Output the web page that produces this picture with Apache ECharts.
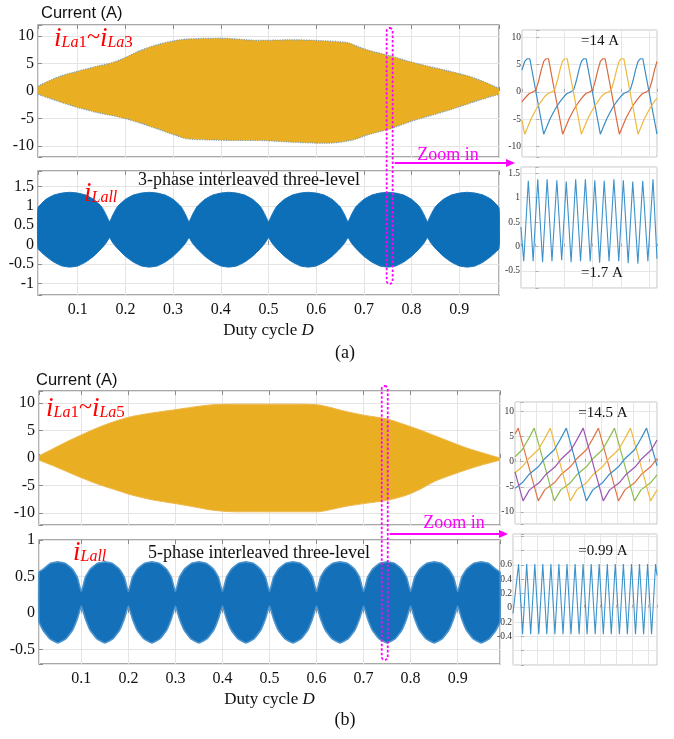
<!DOCTYPE html>
<html>
<head>
<meta charset="utf-8">
<script src="https://cdn.jsdelivr.net/npm/echarts@6/dist/echarts.min.js"></script>
<style>
html,body{margin:0;padding:0;background:#fff}
#c{width:674px;height:739px}
</style>
</head>
<body>
<div id="c"></div>
<script>
// ---------- (a) 3-phase interleaved three-level ----------
// Phase-current envelope versus duty cycle D: [D, current]
const iLaUpperA = [[0.0167,0.9],[0.06,2.6],[0.10,3.6],[0.14,4.5],[0.17,5.1],[0.20,6.1],[0.232,7.4],[0.27,8.5],[0.30,9.1],[0.33,9.45],[0.40,9.6],[0.48,9.2],[0.55,9.3],[0.61,9.15],[0.665,8.8],[0.69,8.0],[0.714,7.3],[0.755,6.4],[0.79,5.5],[0.83,4.6],[0.87,3.8],[0.93,2.4],[0.9833,0.5]];
const iLaLowerA = [[0.0167,-0.6],[0.06,-1.9],[0.10,-3.0],[0.14,-3.9],[0.19,-4.8],[0.23,-5.8],[0.267,-6.9],[0.30,-7.9],[0.33,-8.7],[0.38,-8.9],[0.43,-9.0],[0.48,-9.0],[0.55,-9.3],[0.62,-9.5],[0.672,-9.0],[0.714,-7.8],[0.755,-6.9],[0.80,-5.5],[0.874,-3.6],[0.937,-1.8],[0.9833,-0.6]];
// Total (summed) current ripple envelope: [D, lower, upper]
const iLallA = [
  [0.0167,-0.10,0.95],[0.0333,-0.30,1.17],[0.05,-0.45,1.28],[0.0667,-0.55,1.33],[0.0833,-0.58,1.35],[0.1,-0.55,1.33],[0.1167,-0.45,1.28],[0.1333,-0.30,1.17],[0.15,-0.10,0.98],[0.16,0.05,0.76],[0.1667,0.18,0.59],
  [0.1733,0.05,0.76],[0.1833,-0.10,0.98],[0.2,-0.30,1.17],[0.2167,-0.45,1.28],[0.2333,-0.55,1.33],[0.25,-0.58,1.35],[0.2667,-0.55,1.33],[0.2833,-0.45,1.28],[0.3,-0.30,1.17],[0.3167,-0.10,0.98],[0.3267,0.05,0.76],[0.3333,0.18,0.59],
  [0.34,0.05,0.76],[0.35,-0.10,0.98],[0.3667,-0.30,1.17],[0.3833,-0.45,1.28],[0.4,-0.55,1.33],[0.4167,-0.58,1.35],[0.4333,-0.55,1.33],[0.45,-0.45,1.28],[0.4667,-0.30,1.17],[0.4833,-0.10,0.98],[0.4933,0.05,0.76],[0.5,0.18,0.59],
  [0.5067,0.05,0.76],[0.5167,-0.10,0.98],[0.5333,-0.30,1.17],[0.55,-0.45,1.28],[0.5667,-0.55,1.33],[0.5833,-0.58,1.35],[0.6,-0.55,1.33],[0.6167,-0.45,1.28],[0.6333,-0.30,1.17],[0.65,-0.10,0.98],[0.66,0.05,0.76],[0.6667,0.18,0.59],
  [0.6733,0.05,0.76],[0.6833,-0.10,0.98],[0.7,-0.30,1.17],[0.7167,-0.45,1.28],[0.7333,-0.55,1.33],[0.75,-0.58,1.35],[0.7667,-0.55,1.33],[0.7833,-0.45,1.28],[0.8,-0.30,1.17],[0.8167,-0.10,0.98],[0.8267,0.05,0.76],[0.8333,0.18,0.59],
  [0.84,0.05,0.76],[0.85,-0.10,0.98],[0.8667,-0.30,1.17],[0.8833,-0.45,1.28],[0.9,-0.55,1.33],[0.9167,-0.58,1.35],[0.9333,-0.55,1.33],[0.95,-0.45,1.28],[0.9667,-0.30,1.17],[0.9833,-0.10,0.95]
];
// Zoomed phase currents near D = 0.75: [t, current]
const zoomPhase1A = [[-5.1,4.0],[-4.1,5.6],[-3.3,6.1],[-2.3,6.1],[2.6,-7.8],[3.8,-6.3],[4.9,-4.9],[6.1,-3.7],[7.3,-2.6],[8.5,-1.7],[9.7,-0.9],[10.8,-0.3],[12.2,0.0],[13.2,0.4],[14.1,2.0],[15.1,4.2],[15.9,5.6],[16.7,6.1],[17.6,6.1],[22.6,-7.8],[23.8,-6.3],[24.9,-4.9],[26.1,-3.7],[27.3,-2.6],[28.5,-1.7],[29.7,-0.9],[30.8,-0.3],[32.2,0.0],[33.2,0.4],[34.1,2.0],[35.1,4.2],[35.9,5.6],[36.7,6.1],[37.6,6.1],[42.6,-7.8]];
const zoomPhase2A = [[-5.1,-1.9],[-4.6,-1.5],[-3.6,-0.9],[-2.5,-0.3],[-1.1,0.0],[-0.1,0.4],[0.8,2.0],[1.8,4.2],[2.6,5.6],[3.4,6.1],[4.3,6.1],[9.3,-7.8],[10.5,-6.3],[11.6,-4.9],[12.8,-3.7],[14.0,-2.6],[15.2,-1.7],[16.4,-0.9],[17.5,-0.3],[18.9,0.0],[19.9,0.4],[20.8,2.0],[21.8,4.2],[22.6,5.6],[23.4,6.1],[24.3,6.1],[29.3,-7.8],[30.5,-6.3],[31.6,-4.9],[32.8,-3.7],[34.0,-2.6],[35.2,-1.7],[36.4,-0.9],[37.5,-0.3],[38.9,0.0],[39.9,0.4],[40.8,2.0],[41.8,4.2],[42.6,5.6]];
const zoomPhase3A = [[-5.1,-5.2],[-4.1,-7.8],[-2.9,-6.3],[-1.8,-4.9],[-0.6,-3.7],[0.6,-2.6],[1.8,-1.7],[2.9,-0.9],[4.1,-0.3],[5.5,0.0],[6.5,0.4],[7.4,2.0],[8.4,4.2],[9.2,5.6],[10.0,6.1],[10.9,6.1],[15.9,-7.8],[17.1,-6.3],[18.2,-4.9],[19.4,-3.7],[20.6,-2.6],[21.8,-1.7],[22.9,-0.9],[24.1,-0.3],[25.5,0.0],[26.5,0.4],[27.4,2.0],[28.4,4.2],[29.2,5.6],[30.0,6.1],[30.9,6.1],[35.9,-7.8],[37.1,-6.3],[38.2,-4.9],[39.4,-3.7],[40.6,-2.6],[41.8,-1.7],[42.6,-1.2]];
// Zoomed total current: [t, current]
const zoomTotalA = [[-5.1,0.40],[-4.1,-0.30],[-2.5,1.35],[-0.8,-0.30],[0.8,1.38],[2.5,-0.32],[4.1,1.38],[5.8,-0.30],[7.5,1.36],[9.2,-0.28],[10.8,1.33],[12.5,-0.32],[14.1,1.38],[15.8,-0.30],[17.5,1.38],[19.2,-0.30],[20.8,1.36],[22.5,-0.33],[24.1,1.35],[25.8,-0.30],[27.5,1.38],[29.2,-0.30],[30.8,1.36],[32.5,-0.34],[34.1,1.33],[35.9,-0.35],[37.6,1.35],[39.4,-0.30],[41.2,1.38],[42.6,-0.25]];

// ---------- (b) 5-phase interleaved three-level ----------
const iLaUpperB = [[0.01,0.4],[0.04,1.7],[0.07,3.0],[0.10,4.2],[0.14,5.7],[0.18,6.9],[0.21,7.6],[0.25,8.2],[0.30,8.8],[0.34,9.3],[0.38,9.7],[0.43,9.8],[0.48,9.8],[0.55,9.8],[0.60,9.7],[0.63,9.2],[0.656,8.6],[0.70,7.8],[0.75,7.1],[0.79,6.0],[0.82,5.1],[0.85,4.1],[0.88,3.1],[0.92,1.8],[0.95,1.0],[0.99,0.0]];
const iLaLowerB = [[0.01,-0.4],[0.04,-1.4],[0.07,-2.5],[0.10,-3.6],[0.14,-4.9],[0.18,-6.0],[0.21,-6.8],[0.25,-7.6],[0.30,-8.3],[0.34,-8.9],[0.38,-9.5],[0.43,-9.8],[0.48,-9.8],[0.55,-9.8],[0.60,-9.8],[0.63,-9.4],[0.656,-8.9],[0.70,-8.3],[0.75,-7.7],[0.79,-6.8],[0.82,-5.7],[0.85,-4.3],[0.88,-3.3],[0.92,-2.1],[0.95,-1.3],[0.99,-0.4]];
const iLallB = [
  [0.01,-0.12,0.56],[0.019,-0.24,0.60],[0.034,-0.36,0.68],[0.05,-0.41,0.70],[0.066,-0.36,0.68],[0.081,-0.24,0.60],[0.0914,-0.08,0.49],[0.1,0.095,0.29],
  [0.1086,-0.08,0.49],[0.119,-0.24,0.60],[0.134,-0.36,0.68],[0.15,-0.41,0.70],[0.166,-0.36,0.68],[0.181,-0.24,0.60],[0.1914,-0.08,0.49],[0.2,0.095,0.29],
  [0.2086,-0.08,0.49],[0.219,-0.24,0.60],[0.234,-0.36,0.68],[0.25,-0.41,0.70],[0.266,-0.36,0.68],[0.281,-0.24,0.60],[0.2914,-0.08,0.49],[0.3,0.095,0.29],
  [0.3086,-0.08,0.49],[0.319,-0.24,0.60],[0.334,-0.36,0.68],[0.35,-0.41,0.70],[0.366,-0.36,0.68],[0.381,-0.24,0.60],[0.3914,-0.08,0.49],[0.4,0.095,0.29],
  [0.4086,-0.08,0.49],[0.419,-0.24,0.60],[0.434,-0.36,0.68],[0.45,-0.41,0.70],[0.466,-0.36,0.68],[0.481,-0.24,0.60],[0.4914,-0.08,0.49],[0.5,0.095,0.29],
  [0.5086,-0.08,0.49],[0.519,-0.24,0.60],[0.534,-0.36,0.68],[0.55,-0.41,0.70],[0.566,-0.36,0.68],[0.581,-0.24,0.60],[0.5914,-0.08,0.49],[0.6,0.095,0.29],
  [0.6086,-0.08,0.49],[0.619,-0.24,0.60],[0.634,-0.36,0.68],[0.65,-0.41,0.70],[0.666,-0.36,0.68],[0.681,-0.24,0.60],[0.6914,-0.08,0.49],[0.7,0.095,0.29],
  [0.7086,-0.08,0.49],[0.719,-0.24,0.60],[0.734,-0.36,0.68],[0.75,-0.41,0.70],[0.766,-0.36,0.68],[0.781,-0.24,0.60],[0.7914,-0.08,0.49],[0.8,0.095,0.29],
  [0.8086,-0.08,0.49],[0.819,-0.24,0.60],[0.834,-0.36,0.68],[0.85,-0.41,0.70],[0.866,-0.36,0.68],[0.881,-0.24,0.60],[0.8914,-0.08,0.49],[0.9,0.095,0.29],
  [0.9086,-0.08,0.49],[0.919,-0.24,0.60],[0.934,-0.36,0.68],[0.95,-0.41,0.70],[0.966,-0.36,0.68],[0.981,-0.24,0.60],[0.99,-0.12,0.56]
];
const zoomPhase1B = [[-0.35,5.5],[-0.15,6.7],[1.1,-7.8],[1.5,-5.6],[2.1,-4.2],[2.5,-2.6],[3.1,-1.0],[3.5,0.6],[4.1,2.4],[4.5,4.6],[4.85,6.7],[6.1,-7.8],[6.5,-5.6],[7.1,-4.2],[7.5,-2.6],[8.1,-1.0],[8.5,0.6]];
const zoomPhase2B = [[-0.35,1.0],[0.1,2.4],[0.5,4.6],[0.85,6.7],[2.1,-7.8],[2.5,-5.6],[3.1,-4.2],[3.5,-2.6],[4.1,-1.0],[4.5,0.6],[5.1,2.4],[5.5,4.6],[5.85,6.7],[7.1,-7.8],[7.5,-5.6],[8.1,-4.2],[8.5,-2.6]];
const zoomPhase3B = [[-0.35,-2.2],[0.1,-1.0],[0.5,0.6],[1.1,2.4],[1.5,4.6],[1.85,6.7],[3.1,-7.8],[3.5,-5.6],[4.1,-4.2],[4.5,-2.6],[5.1,-1.0],[5.5,0.6],[6.1,2.4],[6.5,4.6],[6.85,6.7],[8.1,-7.8],[8.5,-5.6]];
const zoomPhase4B = [[-0.35,-5.3],[0.1,-4.2],[0.5,-2.6],[1.1,-1.0],[1.5,0.6],[2.1,2.4],[2.5,4.6],[2.85,6.7],[4.1,-7.8],[4.5,-5.6],[5.1,-4.2],[5.5,-2.6],[6.1,-1.0],[6.5,0.6],[7.1,2.4],[7.5,4.6],[7.85,6.7],[8.5,-0.8]];
const zoomPhase5B = [[-0.35,-2.0],[0.15,-7.8],[0.55,-5.6],[1.15,-4.2],[1.55,-2.6],[2.15,-1.0],[2.55,0.6],[3.15,2.4],[3.55,4.6],[3.9,6.7],[5.15,-7.8],[5.55,-5.6],[6.15,-4.2],[6.55,-2.6],[7.15,-1.0],[7.55,0.6],[8.15,2.4],[8.5,4.3]];
const zoomTotalB = [[-0.5,-0.08],[-0.15,0.61],[0.1,-0.37],[0.36,0.61],[0.61,-0.37],[0.87,0.61],[1.12,-0.37],[1.37,0.61],[1.62,-0.37],[1.88,0.61],[2.13,-0.37],[2.38,0.61],[2.64,-0.37],[2.89,0.61],[3.14,-0.37],[3.4,0.61],[3.65,-0.37],[3.9,0.61],[4.15,-0.37],[4.41,0.61],[4.66,-0.37],[4.91,0.61],[5.17,-0.37],[5.42,0.61],[5.67,-0.37],[5.92,0.61],[6.18,-0.37],[6.43,0.61],[6.68,-0.37],[6.94,0.61],[7.19,-0.37],[7.44,0.61],[7.7,-0.37],[7.95,0.61],[8.2,-0.37],[8.45,0.61],[8.54,0.45]];

// Axis extents
const dutyRangeA = [0.0167, 0.9833];
const dutyRangeB = [0.01, 0.99];
const zoomDutyA = 0.754;
const zoomDutyB = 0.745;
const peakToPeak = ['=14 A', '=1.7 A', '=14.5 A', '=0.99 A'];

const SERIF = '"Liberation Serif","Times New Roman",serif';
const SANS = '"Liberation Sans",Arial,sans-serif';
const MAGENTA = '#ff00ff';

const chart = echarts.init(document.getElementById('c'));

const grids = [
  {left: 38, top: 25, width: 461, height: 132},
  {left: 38, top: 171, width: 461, height: 124},
  {left: 522, top: 30, width: 135, height: 127},
  {left: 521, top: 167, width: 136, height: 121},
  {left: 39, top: 391, width: 461, height: 134},
  {left: 39, top: 540, width: 461, height: 124},
  {left: 515, top: 402, width: 142, height: 122},
  {left: 513, top: 534, width: 144, height: 131}
].map((g, i) => Object.assign({
  show: true, containLabel: false, outerBoundsMode: 'none',
  borderColor: [0, 1, 4, 5].includes(i) ? '#8c8c8c' : '#c2c2c2',
  borderWidth: [0, 1, 4, 5].includes(i) ? 1.3 : 1,
  backgroundColor: 'transparent'
}, g));

function stepFormatter(step, lo, hi) {
  return v => {
    const k = v / step;
    if (Math.abs(k - Math.round(k)) > 1e-6) return '';
    if (lo !== undefined && (v < lo - 1e-9 || v > hi + 1e-9)) return '';
    return String(Math.round(v * 100) / 100);
  };
}

function mainX(gi, range, labels) {
  return {
    gridIndex: gi, type: 'value', min: range[0], max: range[1], splitNumber: 10,
    axisLine: {show: false},
    axisTick: {show: true, inside: true, length: 4, lineStyle: {color: '#8c8c8c'}},
    splitLine: {show: true, lineStyle: {color: '#e4e4e4', width: 1}},
    axisLabel: {show: labels, formatter: v => {
      const k = v / 0.1; return Math.abs(k - Math.round(k)) < 1e-6 ? v.toFixed(1) : '';
    }, fontFamily: SERIF, fontSize: 16, color: '#111', margin: 7, hideOverlap: false},
    name: labels ? 'Duty cycle {it|D}' : '', nameLocation: 'middle', nameGap: 27,
    nameTextStyle: {fontFamily: SERIF, fontSize: 17, color: '#111',
      rich: {it: {fontFamily: SERIF, fontSize: 17, fontStyle: 'italic', color: '#111'}}}
  };
}
function topMirror(gi, range) {
  return {
    gridIndex: gi, type: 'value', position: 'top', min: range[0], max: range[1], splitNumber: 10,
    axisLine: {show: false}, axisLabel: {show: false}, splitLine: {show: false},
    axisTick: {show: true, inside: true, length: 4, lineStyle: {color: '#8c8c8c'}}
  };
}
function mainY(gi, min, max, splitNumber, step) {
  return {
    gridIndex: gi, type: 'value', min, max, splitNumber,
    axisLine: {show: false},
    axisTick: {show: true, inside: true, length: 4, lineStyle: {color: '#8c8c8c'}},
    splitLine: {show: true, lineStyle: {color: '#e4e4e4', width: 1}},
    axisLabel: {formatter: stepFormatter(step), fontFamily: SERIF, fontSize: 16, color: '#111', margin: 4, hideOverlap: false}
  };
}
function insetX(gi, min, max, splitNumber) {
  return {
    gridIndex: gi, type: 'value', min, max, splitNumber,
    axisLine: {show: false}, axisLabel: {show: false},
    axisTick: {show: true, inside: true, length: 3, lineStyle: {color: '#aaa'}},
    splitLine: {show: true, lineStyle: {color: '#e6e6e6', width: 1}}
  };
}
function insetY(gi, min, max, splitNumber, step, lo, hi) {
  return {
    gridIndex: gi, type: 'value', min, max, splitNumber,
    axisLine: {show: false},
    axisTick: {show: true, inside: true, length: 3, lineStyle: {color: '#aaa'}},
    splitLine: {show: true, lineStyle: {color: '#e6e6e6', width: 1}},
    axisLabel: {formatter: stepFormatter(step, lo, hi), fontFamily: SERIF, fontSize: 9.5, color: '#333', margin: 1, hideOverlap: false}
  };
}

const xAxes = [
  mainX(0, dutyRangeA, false),
  mainX(1, dutyRangeA, true),
  insetX(2, -5.06, 42.6, 5),
  insetX(3, -5.06, 42.6, 5),
  mainX(4, dutyRangeB, false),
  mainX(5, dutyRangeB, true),
  insetX(6, -0.35, 8.5, 9),
  insetX(7, -0.5, 8.54, 9),
  topMirror(0, dutyRangeA), topMirror(1, dutyRangeA), topMirror(4, dutyRangeB), topMirror(5, dutyRangeB)
];
const yAxes = [
  mainY(0, -12, 12, 5, 5),
  mainY(1, -1.3, 1.9, 6, 0.5),
  insetY(2, -12, 11.4, 5, 5),
  insetY(3, -0.85, 1.63, 5, 0.5),
  mainY(4, -12.2, 12.2, 5, 5),
  mainY(5, -0.7, 1.0, 4, 0.5),
  insetY(6, -12.4, 11.9, 5, 5),
  insetY(7, -0.8, 1.03, 9, 0.2, -0.4, 0.6)
];

function line(gi, data, color, width, extra) {
  return Object.assign({
    type: 'line', xAxisIndex: gi, yAxisIndex: gi, data, symbol: 'none', silent: true,
    lineStyle: {color, width}, z: 3
  }, extra || {});
}
// Envelope drawn as area from the zero line outward (the band straddles zero)
function halfEnvelope(gi, data, fill, edge) {
  return line(gi, data, edge.color, edge.width, {
    smooth: 0.3, lineStyle: edge, areaStyle: {color: fill, opacity: 1}, z: 2
  });
}
// Ripple band between lower and upper bounds, filled as one polygon in data space
function bandEnvelope(gi, rows, fill, edgeColor, edgeWidth) {
  return {
    type: 'custom', xAxisIndex: gi, yAxisIndex: gi, silent: true, z: 2,
    data: rows.map(r => [r[0], r[1], r[2]]),
    encode: {x: 0, y: [1, 2]},
    renderItem: (params, api) => {
      if (params.dataIndex !== 0) return null;
      const upper = rows.map(r => api.coord([r[0], r[2]]));
      const lower = rows.map(r => api.coord([r[0], r[1]])).reverse();
      return {
        type: 'polygon',
        shape: {points: upper.concat(lower), smooth: 0.12},
        style: {fill, stroke: edgeColor, lineWidth: edgeWidth}
      };
    }
  };
}

const ORANGE = '#eaae22';
const dottedEdge = {color: '#7e9db0', width: 1.2, type: 'dotted'};
const series = [
  halfEnvelope(0, iLaUpperA, ORANGE, dottedEdge),
  halfEnvelope(0, iLaLowerA, ORANGE, dottedEdge),
  bandEnvelope(1, iLallA, '#0c6fb8', '#1a74bb', 1),
  line(2, zoomPhase1A, '#3a8ec8', 1.2),
  line(2, zoomPhase2A, '#db6a3e', 1.2),
  line(2, zoomPhase3A, '#efb83e', 1.2),
  line(3, zoomTotalA, '#3c92cb', 1.1),
  halfEnvelope(4, iLaUpperB, ORANGE, {color: '#eeb84a', width: 1}),
  halfEnvelope(4, iLaLowerB, ORANGE, {color: '#eeb84a', width: 1}),
  bandEnvelope(5, iLallB, '#1470b8', '#4b93cd', 1.6),
  line(6, zoomPhase1B, '#e07448', 1.2),
  line(6, zoomPhase2B, '#8cbd4e', 1.2),
  line(6, zoomPhase3B, '#efb83e', 1.2),
  line(6, zoomPhase4B, '#3a8ec8', 1.2),
  line(6, zoomPhase5B, '#9a56b0', 1.2),
  line(7, zoomTotalB, '#3c92cb', 1.1)
];

chart.setOption({
  animation: false,
  backgroundColor: '#fff',
  textStyle: {fontFamily: SERIF},
  grid: grids,
  xAxis: xAxes,
  yAxis: yAxes,
  series
});

// ---------- annotations ----------
const redRich = {
  i: {fontFamily: SERIF, fontStyle: 'italic', fontSize: 27, fill: '#ff0000', verticalAlign: 'bottom'},
  s: {fontFamily: SERIF, fontStyle: 'italic', fontSize: 16, fill: '#ff0000', verticalAlign: 'bottom', padding: [0, 0, 1, 0]},
  n: {fontFamily: SERIF, fontSize: 17, fill: '#ff0000', verticalAlign: 'bottom', padding: [0, 0, 1, 0]},
  t: {fontFamily: SERIF, fontSize: 24, fill: '#ff0000', verticalAlign: 'bottom', padding: [0, 0, 2, 0]}
};
function redLabel(x, y, text) {
  return {type: 'text', x, y, silent: true, z: 20,
    style: {text, rich: redRich, fill: '#ff0000', verticalAlign: 'bottom', align: 'left'}};
}
function plainText(x, y, text, font, color, align) {
  return {type: 'text', x, y, silent: true, z: 20,
    style: {text, font, fill: color || '#111', align: align || 'left', verticalAlign: 'middle'}};
}
function zoomMarker(xAxisIndex, duty, yTop, yBottom, arrowY, arrowEnd, labelX, labelY) {
  const cx = chart.convertToPixel({xAxisIndex}, duty);
  const w = 6;
  return [
    {type: 'rect', silent: true, z: 30,
      shape: {x: cx - w / 2, y: yTop, width: w, height: yBottom - yTop, r: 3},
      style: {fill: 'none', stroke: MAGENTA, lineWidth: 1.8, lineDash: [2.5, 2]}},
    {type: 'line', silent: true, z: 30,
      shape: {x1: cx + w / 2 + 2, y1: arrowY, x2: arrowEnd - 8, y2: arrowY},
      style: {stroke: MAGENTA, lineWidth: 2}},
    {type: 'polygon', silent: true, z: 30,
      shape: {points: [[arrowEnd - 9, arrowY - 4], [arrowEnd, arrowY], [arrowEnd - 9, arrowY + 4]]},
      style: {fill: MAGENTA}},
    plainText(labelX, labelY, 'Zoom in', '18px ' + SERIF, MAGENTA, 'center')
  ];
}

chart.setOption({
  graphic: [
    plainText(41, 13, 'Current (A)', '16.5px ' + SANS, '#111'),
    plainText(36, 380, 'Current (A)', '16.5px ' + SANS, '#111'),
    redLabel(54, 52, '{i|i}{s|La}{n|1}{t|~}{i|i}{s|La}{n|3}'),
    redLabel(46, 422, '{i|i}{s|La}{n|1}{t|~}{i|i}{s|La}{n|5}'),
    redLabel(84, 207, '{i|i}{s|Lall}'),
    redLabel(73, 566, '{i|i}{s|Lall}'),
    plainText(138, 180, '3-phase interleaved three-level', '18px ' + SERIF, '#111'),
    plainText(148, 553, '5-phase interleaved three-level', '18px ' + SERIF, '#111'),
    plainText(345, 353, '(a)', '18px ' + SERIF, '#111', 'center'),
    plainText(345, 720, '(b)', '18px ' + SERIF, '#111', 'center'),
    plainText(600, 41, peakToPeak[0], '15px ' + SERIF, '#111', 'center'),
    plainText(602, 273, peakToPeak[1], '15px ' + SERIF, '#111', 'center'),
    plainText(603, 413, peakToPeak[2], '15px ' + SERIF, '#111', 'center'),
    plainText(603, 551, peakToPeak[3], '15px ' + SERIF, '#111', 'center'),
    ...zoomMarker(0, zoomDutyA, 28, 284, 163, 515, 448, 155),
    ...zoomMarker(4, zoomDutyB, 386, 660, 534, 508, 454, 523)
  ]
});
</script>
</body>
</html>
